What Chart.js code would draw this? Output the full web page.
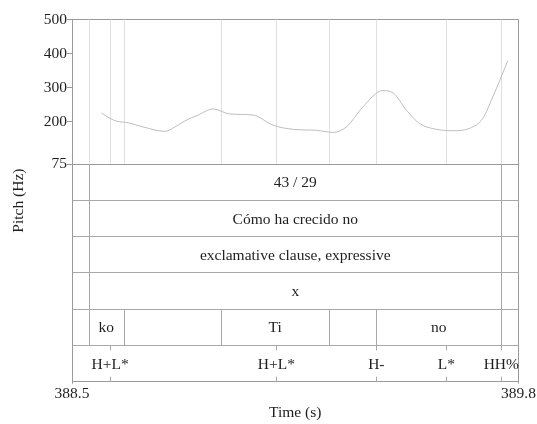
<!DOCTYPE html>
<html><head><meta charset="utf-8">
<script src="https://cdn.jsdelivr.net/npm/chart.js@4.4.1/dist/chart.umd.min.js"></script>
<style>html,body{margin:0;padding:0;background:#fff}#wrap{width:537px;height:424px;position:relative}</style>
</head><body><div id="wrap"><canvas id="c"></canvas></div>
<script>
// ---- data ----
const timeRange = [388.5, 389.8];
const timeTicks = [388.5, 389.8];
const pitchRange = [75, 500];
const pitchTicks = [75, 200, 300, 400, 500];

const pitchTimes = [388.586, 388.611, 388.630, 388.664, 388.707, 388.771, 388.800, 388.829, 388.867, 388.911,
  388.960, 389.027, 389.086, 389.144, 389.212, 389.260, 389.299, 389.347, 389.405, 389.435,
  389.474, 389.512, 389.561, 389.609, 389.658, 389.696, 389.725, 389.769];
const pitchValues = [225, 209, 201, 196, 184, 171, 184, 202, 219, 237,
  222, 219, 189, 177, 174, 168, 184, 243, 291, 284,
  233, 194, 177, 173, 180, 209, 272, 379];

const tierTexts = ['43 / 29', 'Cómo ha crecido no', 'exclamative clause, expressive', 'x'];
const tierBounds = [388.550, 389.750];
const syllableBounds = [388.550, 388.650, 388.935, 389.248, 389.386, 389.750];
const syllableLabels = ['ko', '', 'Ti', '', 'no'];
const toneTimes = [388.611, 389.095, 389.386, 389.590, 389.750];
const toneLabels = ['H+L*', 'H+L*', 'H-', 'L*', 'HH%'];
const tierCount = 6;

// ---- styles ----
const FONT = 'Liberation Serif, Times New Roman, serif';
const FS = 15.5;
const TEXT = '#1e1e1e';
const AXIS = '#9a9a9a';
const TIERLINE = '#a8a8a8';
const PITCHGRID = '#e0e0e0';

const tierPlugin = {
  id: 'tiers',
  beforeDatasetsDraw(chart) {
    const ctx = chart.ctx, x = chart.scales.x, y = chart.scales.y, t = chart.scales.tier;
    ctx.save();
    ctx.lineWidth = 1;
    const all = [...new Set([...tierBounds, ...syllableBounds, ...toneTimes])];
    ctx.strokeStyle = PITCHGRID;
    all.forEach(v => {
      const px = Math.round(x.getPixelForValue(v)) + 0.5;
      ctx.beginPath(); ctx.moveTo(px, y.getPixelForValue(pitchRange[1])); ctx.lineTo(px, y.getPixelForValue(pitchRange[0])); ctx.stroke();
    });
    ctx.strokeStyle = TIERLINE;
    for (let k = 0; k < tierTexts.length; k++) {
      tierBounds.forEach(v => {
        const px = Math.round(x.getPixelForValue(v)) + 0.5;
        ctx.beginPath(); ctx.moveTo(px, t.getPixelForValue(k)); ctx.lineTo(px, t.getPixelForValue(k + 1)); ctx.stroke();
      });
    }
    syllableBounds.forEach(v => {
      const px = Math.round(x.getPixelForValue(v)) + 0.5;
      ctx.beginPath(); ctx.moveTo(px, t.getPixelForValue(4)); ctx.lineTo(px, t.getPixelForValue(5)); ctx.stroke();
    });
    toneTimes.forEach(v => {
      const px = Math.round(x.getPixelForValue(v)) + 0.5;
      const top = t.getPixelForValue(5), bot = t.getPixelForValue(6);
      ctx.beginPath(); ctx.moveTo(px, top); ctx.lineTo(px, top + 5); ctx.stroke();
      ctx.beginPath(); ctx.moveTo(px, bot - 5); ctx.lineTo(px, bot); ctx.stroke();
    });
    ctx.restore();
  },
  afterDatasetsDraw(chart) {
    const ctx = chart.ctx, x = chart.scales.x, t = chart.scales.tier;
    ctx.save();
    ctx.fillStyle = TEXT;
    ctx.font = FS + 'px ' + FONT;
    ctx.textAlign = 'center';
    ctx.textBaseline = 'middle';
    const mid = k => (t.getPixelForValue(k) + t.getPixelForValue(k + 1)) / 2 + 1;
    tierTexts.forEach((s, k) => {
      ctx.fillText(s, (x.getPixelForValue(tierBounds[0]) + x.getPixelForValue(tierBounds[1])) / 2, mid(k));
    });
    syllableLabels.forEach((s, i) => {
      if (!s) return;
      ctx.fillText(s, (x.getPixelForValue(syllableBounds[i]) + x.getPixelForValue(syllableBounds[i + 1])) / 2, mid(4));
    });
    toneLabels.forEach((s, i) => {
      ctx.fillText(s, x.getPixelForValue(toneTimes[i]), mid(5));
    });
    const ca = chart.chartArea;
    ctx.translate(19, (ca.top + ca.bottom) / 2);
    ctx.rotate(-Math.PI / 2);
    ctx.fillText('Pitch (Hz)', 0, 0);
    ctx.restore();
  }
};

new Chart(document.getElementById('c'), {
  type: 'line',
  data: {
    datasets: [{
      data: pitchTimes.map((tm, i) => ({ x: tm, y: pitchValues[i] })),
      xAxisID: 'x', yAxisID: 'y',
      borderColor: '#bdbdbd', borderWidth: 1,
      pointRadius: 0, cubicInterpolationMode: 'monotone', fill: false
    }]
  },
  options: {
    responsive: true, maintainAspectRatio: false, animation: false,
    layout: { padding: { top: 19.5, right: 18.5, bottom: 0, left: 0 } },
    plugins: { legend: { display: false }, tooltip: { enabled: false } },
    scales: {
      x: {
        type: 'linear', min: timeRange[0], max: timeRange[1],
        afterBuildTicks: s => { s.ticks = timeTicks.map(v => ({ value: v })); },
        afterFit: s => { s.height = 42.3; },
        ticks: { color: TEXT, font: { family: FONT, size: FS }, padding: 1, maxRotation: 0, autoSkip: false, callback: v => Number(v).toFixed(1) },
        grid: { color: AXIS, tickColor: AXIS, tickLength: 2, drawOnChartArea: true },
        border: { color: AXIS },
        title: { display: true, text: 'Time (s)', color: TEXT, font: { family: FONT, size: FS }, padding: { top: 0, bottom: 2 } }
      },
      tier: {
        type: 'linear', min: 0, max: tierCount, reverse: true, position: 'left',
        stack: 'plot', stackWeight: 217.7,
        afterBuildTicks: s => { s.ticks = Array.from({ length: tierCount + 1 }, (_, i) => ({ value: i })); },
        afterFit: s => { s.width = 72; },
        ticks: { display: false, autoSkip: false },
        grid: { color: TIERLINE, drawTicks: false },
        border: { color: AXIS }
      },
      y: {
        type: 'linear', min: pitchRange[0], max: pitchRange[1], position: 'left',
        stack: 'plot', stackWeight: 144.5,
        afterBuildTicks: s => { s.ticks = pitchTicks.map(v => ({ value: v })); },
        afterFit: s => { s.width = 72; },
        ticks: { color: TEXT, font: { family: FONT, size: FS }, padding: 0, autoSkip: false },
        grid: {
          color: c => (c.tick && (c.tick.value === 500 || c.tick.value === 75)) ? AXIS : 'rgba(0,0,0,0)',
          tickColor: AXIS, tickLength: 5
        },
        border: { color: AXIS }
      }
    }
  },
  plugins: [tierPlugin]
});
</script>
</body></html>
